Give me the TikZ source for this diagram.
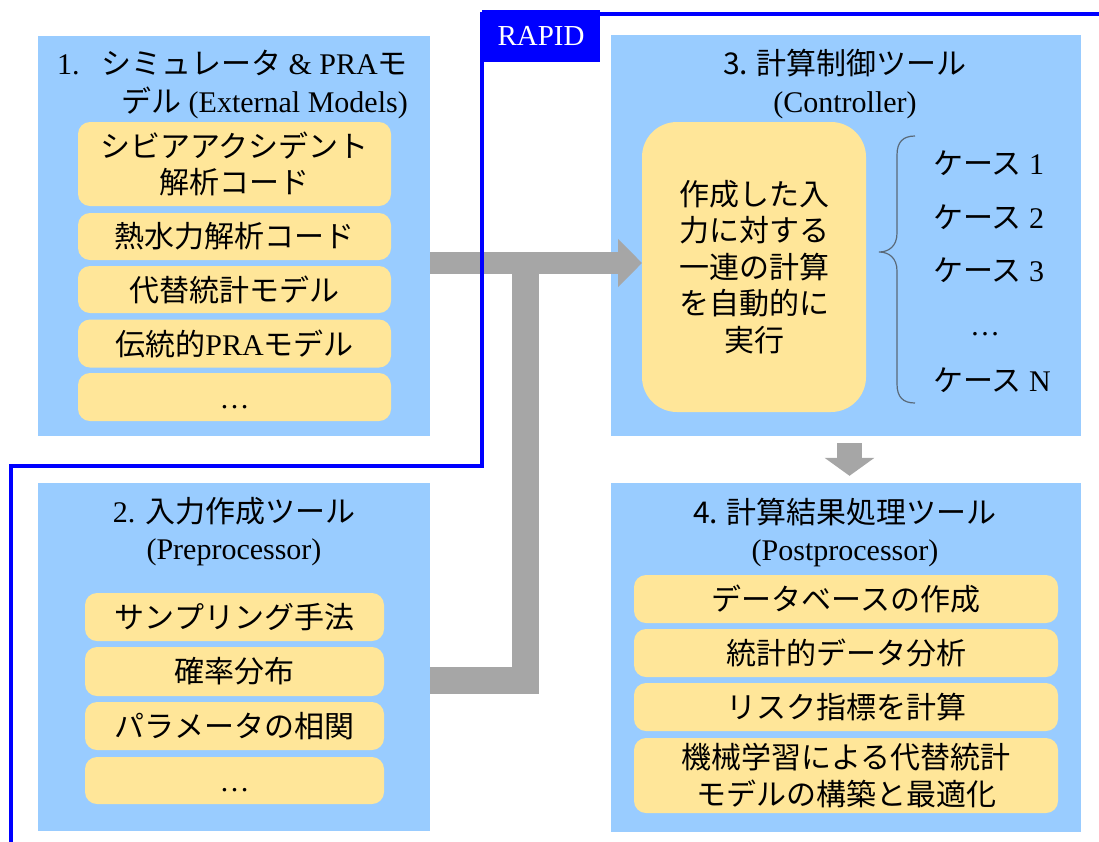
\documentclass[tikz,border=0pt]{standalone}
\usepackage{fontspec}
\setmainfont{Liberation Serif}
\newfontfamily\jp{Noto Sans CJK JP}
\usetikzlibrary{arrows.meta,calc}
\definecolor{boxblue}{RGB}{153,204,255}
\definecolor{itemyel}{RGB}{255,230,153}
\definecolor{arrgray}{RGB}{166,166,166}
\definecolor{rapidblue}{RGB}{0,0,255}
\definecolor{bracegray}{RGB}{90,105,120}
\begin{document}
\begin{tikzpicture}[x=1pt,y=-1pt,
  panel/.style={fill=boxblue, draw=none, inner sep=0pt, rectangle},
  item/.style={fill=itemyel, draw=none, rounded corners=12pt, inner sep=0pt, align=center,
    font=\jp\fontsize{30}{36.5}\selectfont},
  ttl/.style={align=center, inner sep=0pt, font=\fontsize{30}{37.5}\selectfont},
  casetext/.style={anchor=west, inner sep=0pt, font=\fontsize{30}{36}\selectfont},
  flow/.style={draw=arrgray, line cap=butt, line join=miter},
  rapidline/.style={draw=rapidblue, line width=4pt, line join=miter}]
\useasboundingbox (0,0) rectangle (1099,841);

% panels
\node[panel, minimum width=392pt, minimum height=400pt] (b1) at (234,236) {};
\node[panel, minimum width=392pt, minimum height=348pt] (b2) at (234,657) {};
\node[panel, minimum width=470pt, minimum height=401pt] (b3) at (846,235.5) {};
\node[panel, minimum width=470pt, minimum height=349pt] (b4) at (846,657.5) {};

% titles
\node[ttl, anchor=west, align=left] (t1) at (57,84.5)
  {1.\hspace{22pt}{\jp シミュレータ} \& PRA{\jp モ}\\\hspace*{64pt}{\jp デル} (External Models)};
\node[ttl] (t2) at (234,531.5) {2. {\jp 入力作成ツール}\\(Preprocessor)};
\node[ttl] (t3) at (845,84) {{\jp 3. 計算制御ツール}\\(Controller)};
\node[ttl] (t4) at (845,532.5) {{\jp 4. 計算結果処理ツール}\\(Postprocessor)};

% box 1 items
\node[item, minimum width=313pt, minimum height=84pt] (a1) at (234.5,164) {シビアアクシデント\\解析コード};
\node[item, minimum width=313pt, minimum height=47pt] (a2) at (234.5,236.5) {熱水力解析コード};
\node[item, minimum width=313pt, minimum height=47pt] (a3) at (234.5,289.5) {代替統計モデル};
\node[item, minimum width=313pt, minimum height=48pt] (a4) at (234.5,343.5) {伝統的{\rmfamily PRA}モデル};
\node[item, minimum width=313pt, minimum height=48pt] (a5) at (234.5,397) {\vphantom{ケ}{\rmfamily …}};

% box 2 items
\node[item, minimum width=299pt, minimum height=48pt] (p1) at (234.5,617) {サンプリング手法};
\node[item, minimum width=299pt, minimum height=49pt] (p2) at (234.5,671.5) {確率分布};
\node[item, minimum width=299pt, minimum height=48pt] (p3) at (234.5,726) {パラメータの相関};
\node[item, minimum width=299pt, minimum height=47pt] (p4) at (234.5,780.5) {\vphantom{ケ}{\rmfamily …}};

% box 4 items
\node[item, minimum width=424pt, minimum height=48pt] (q1) at (846,599) {データベースの作成};
\node[item, minimum width=424pt, minimum height=48pt] (q2) at (846,653) {統計的データ分析};
\node[item, minimum width=424pt, minimum height=48pt] (q3) at (846,707) {リスク指標を計算};
\node[item, minimum width=424pt, minimum height=75pt] (q4) at (846,775.5) {機械学習による代替統計\\モデルの構築と最適化};

% gray connectors
\coordinate (j) at (525,263);
\draw[flow, line width=27pt] (b2.east |- 0,680) -| (j);
\draw[flow, line width=22pt, -{Triangle[length=24pt,width=47pt]}] (b1.east |- 0,263) -- (642,263) coordinate (tipa);
\draw[flow, line width=25pt, -{Triangle[length=18pt,width=49pt]}] ($(b3.south)+(3.5,7)$) -- ($(b4.north)+(3.5,-7)$);

% controller box
\node[item, rounded corners=35pt, minimum width=224pt, minimum height=290pt] (yb) at (754,267)
  {作成した入\\力に対する\\一連の計算\\を自動的に\\実行};

% brace
\draw[bracegray, line width=1.2pt] (915,136) .. controls (903,136) and (897,142) .. (897,155)
  -- (897,233) .. controls (897,246) and (889,252) .. (879,252)
  .. controls (889,252) and (897,258) .. (897,271)
  -- (897,384) .. controls (897,397) and (903,403) .. (915,403);

% cases
\node[casetext] (c1) at (933,163) {{\jp ケース} 1};
\node[casetext] (c2) at (933,217) {{\jp ケース} 2};
\node[casetext] (c3) at (933,270) {{\jp ケース} 3};
\node[casetext, anchor=center] (c4) at (985,324) {{\jp\vphantom{ケ}}…};
\node[casetext] (c5) at (933,380) {{\jp ケース} N};

% RAPID boundary
\draw[rapidline] (1103,14) -- (482,14) -- (482,466) -- (11,466) -- (11,845);
\node[fill=rapidblue, text=white, minimum width=118pt, minimum height=52pt, inner sep=0pt,
  font=\fontsize{29}{34}\selectfont] (rapid) at (541,36) {RAPID};
\end{tikzpicture}
\end{document}
